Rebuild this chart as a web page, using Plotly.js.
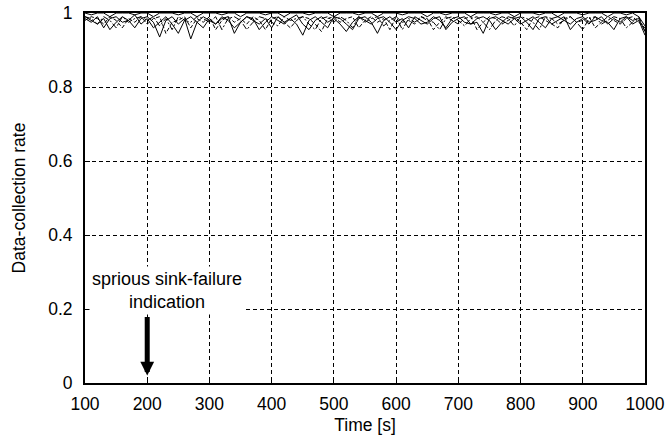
<!DOCTYPE html>
<html>
<head>
<meta charset="utf-8">
<script src="https://cdn.plot.ly/plotly-3.0.1.min.js"></script>
<style>html,body{margin:0;padding:0;background:#fff;}#chart{width:670px;height:441px;}</style>
</head>
<body>
<div id="chart"></div>
<script>
// Time axis (s), sampled every 10 s
var timeS = [100,110,120,130,140,150,160,170,180,190,200,210,220,230,240,250,260,270,280,290,300,310,320,330,340,350,360,370,380,390,400,410,420,430,440,450,460,470,480,490,500,510,520,530,540,550,560,570,580,590,600,610,620,630,640,650,660,670,680,690,700,710,720,730,740,750,760,770,780,790,800,810,820,830,840,850,860,870,880,890,900,910,920,930,940,950,960,970,980,990,1000];

var rateRun1 = [0.99,0.98,0.97,0.985,0.955,0.975,0.99,0.98,0.995,0.97,
0.985,0.96,0.975,0.99,0.97,0.945,0.98,0.99,0.975,0.96,
0.985,0.97,0.99,0.98,0.96,0.975,0.99,0.985,0.955,0.975,
0.99,0.98,0.97,0.985,0.995,0.97,0.955,0.98,0.99,0.975,
0.985,0.97,0.95,0.975,0.99,0.98,0.97,0.985,0.99,0.975,
0.955,0.98,0.99,0.985,0.97,0.975,0.99,0.98,0.96,0.985,
0.99,0.975,0.97,0.985,0.99,0.98,0.955,0.975,0.99,0.985,
0.97,0.98,0.99,0.975,0.96,0.985,0.99,0.98,0.97,0.985,
0.99,0.975,0.98,0.99,0.97,0.985,0.975,0.99,0.98,0.985,0.95];

var rateRun2 = [0.98,0.99,0.985,0.97,0.99,0.98,0.96,0.985,0.975,0.99,
0.97,0.985,0.99,0.945,0.975,0.98,0.99,0.96,0.985,0.975,
0.99,0.955,0.98,0.99,0.975,0.985,0.97,0.99,0.98,0.955,
0.985,0.99,0.975,0.96,0.98,0.99,0.985,0.97,0.95,0.985,
0.99,0.975,0.985,0.99,0.96,0.98,0.99,0.975,0.985,0.955,
0.99,0.975,0.98,0.97,0.99,0.985,0.955,0.975,0.99,0.98,
0.97,0.985,0.99,0.955,0.975,0.99,0.985,0.97,0.98,0.99,
0.975,0.955,0.985,0.99,0.98,0.97,0.96,0.985,0.99,0.975,
0.98,0.99,0.96,0.975,0.99,0.98,0.97,0.985,0.99,0.975,0.96];

var rateRun3 = [0.985,0.975,0.99,0.96,0.985,0.99,0.975,0.98,0.96,0.985,
0.99,0.975,0.935,0.98,0.99,0.97,0.985,0.93,0.975,0.99,
0.98,0.97,0.985,0.99,0.945,0.975,0.99,0.98,0.97,0.985,
0.96,0.99,0.975,0.985,0.97,0.94,0.98,0.99,0.975,0.96,
0.99,0.985,0.97,0.955,0.985,0.99,0.975,0.945,0.98,0.99,
0.975,0.985,0.96,0.99,0.98,0.97,0.985,0.99,0.955,0.975,
0.985,0.99,0.97,0.975,0.945,0.985,0.99,0.98,0.97,0.985,
0.99,0.975,0.955,0.985,0.99,0.97,0.98,0.99,0.955,0.975,
0.985,0.97,0.99,0.98,0.975,0.955,0.985,0.99,0.97,0.98,0.94];

var rateRun4 = [0.99,0.985,0.97,0.99,0.98,0.96,0.99,0.975,0.985,0.99,
0.98,0.99,0.965,0.985,0.955,0.99,0.98,0.975,0.99,0.985,
0.975,0.99,0.955,0.985,0.99,0.98,0.955,0.975,0.99,0.985,
0.975,0.965,0.99,0.98,0.985,0.99,0.97,0.955,0.985,0.99,
0.975,0.99,0.98,0.96,0.99,0.975,0.985,0.99,0.965,0.98,
0.99,0.955,0.985,0.975,0.99,0.98,0.975,0.955,0.985,0.99,
0.98,0.965,0.985,0.99,0.975,0.955,0.98,0.99,0.985,0.965,
0.99,0.985,0.975,0.955,0.99,0.985,0.97,0.98,0.99,0.975,
0.955,0.985,0.99,0.97,0.98,0.99,0.985,0.96,0.975,0.99,0.95];

var rateRun5 = [1,0.995,1,1,0.99,1,1,1,0.995,1,
1,0.99,1,1,1,0.995,1,1,0.99,1,
1,1,0.995,1,1,0.99,1,1,1,0.995,
1,1,0.99,1,1,1,0.995,1,1,1,
0.99,1,1,1,0.995,1,1,0.99,1,1,
1,0.995,1,1,1,0.99,1,1,0.995,1,
1,1,0.99,1,1,1,0.995,1,1,0.99,
1,1,1,0.995,1,1,0.99,1,1,1,
0.995,1,1,1,0.99,1,1,0.995,1,0.99,0.965];

var runs = [rateRun1, rateRun2, rateRun3, rateRun4, rateRun5];
var dashes = ['solid', '4px,2px', 'solid', '6px,2px,2px,2px', 'solid'];

var xTickVals = [100,200,300,400,500,600,700,800,900,1000];
var yTickVals = [0,0.2,0.4,0.6,0.8,1];
var yTickText = ['0','0.2','0.4','0.6','0.8','1'];

var traces = runs.map(function(r, i){
  return {x: timeS, y: r, type: 'scatter', mode: 'lines',
    line: {color: '#000', width: 1, dash: dashes[i]}, showlegend: false, hoverinfo: 'skip'};
});

var fnt = {family: 'Liberation Sans, Arial, sans-serif', size: 17.5, color: '#000'};
var fntA = {family: 'Liberation Sans, Arial, sans-serif', size: 18, color: '#000'};

var layout = {
  width: 670, height: 441,
  margin: {l: 85, r: 25, t: 13, b: 58},
  paper_bgcolor: '#fff', plot_bgcolor: '#fff',
  font: fnt,
  xaxis: {
    range: [100, 1000], tickvals: xTickVals, ticks: 'inside', ticklen: 5, tickcolor: '#000',
    showline: true, linecolor: '#000', linewidth: 2, mirror: true,
    showgrid: true, gridcolor: '#000', gridwidth: 1, griddash: '4px,3px',
    zeroline: false, tickfont: fnt, ticklabelstandoff: 4,
    title: {text: 'Time [s]', font: fnt, standoff: 6}
  },
  yaxis: {
    range: [0, 1], tickvals: yTickVals, ticktext: yTickText, ticks: 'inside', ticklen: 5, tickcolor: '#000',
    showline: true, linecolor: '#000', linewidth: 2, mirror: true,
    showgrid: true, gridcolor: '#000', gridwidth: 1, griddash: '4px,3px',
    zeroline: false, tickfont: fnt, ticklabelstandoff: 7,
    title: {text: 'Data-collection rate', font: fnt, standoff: 18}
  },
  annotations: [
    {x: 231, y: 0.25, xref: 'x', yref: 'y', text: 'sprious sink-failure<br>indication',
     showarrow: false, bgcolor: '#fff', borderpad: 2, font: fntA, align: 'center'},
    {x: 200, y: 0.02, xref: 'x', yref: 'y', ax: 0, ay: -60, text: '', showarrow: true,
     arrowhead: 2, arrowwidth: 5, arrowsize: 0.55, arrowcolor: '#000'}
  ]
};

Plotly.newPlot('chart', traces, layout, {staticPlot: true, displayModeBar: false});
</script>
</body>
</html>
